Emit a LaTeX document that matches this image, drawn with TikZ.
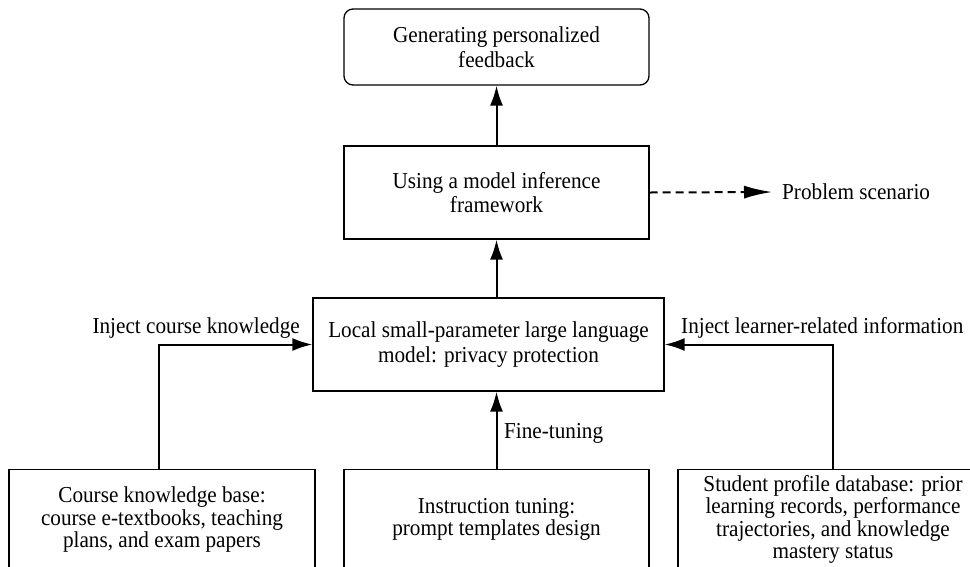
\documentclass[tikz,border=0pt]{standalone}
\usepackage{fontspec}
\setmainfont{Liberation Serif}[FakeStretch=0.93]
\usetikzlibrary{arrows.meta,positioning}
\tikzset{
  box/.style={draw,line width=1.3pt,align=center,inner sep=0pt},
  rbox/.style={box,rounded corners=9pt},
  src/.style={box,font=\fontsize{22.8}{22.5}\selectfont,minimum height=100pt,anchor=north},
  arr/.style={line width=2pt,-{Latex[length=20pt,width=13pt]}},
  dasharr/.style={line width=2pt,dash pattern=on 8pt off 5pt,-{Latex[length=28pt,width=13pt]}},
  lbl/.style={inner sep=0pt},
}
\begin{document}
\begin{tikzpicture}[x=1pt,y=-1pt,font=\fontsize{22.8}{24.5}\selectfont]
    \useasboundingbox (0,0) rectangle (970,566);
    \node[rbox,minimum width=305pt,minimum height=76pt](fb)at(496.5,47){Generating personalized\\feedback};
    \node[box,minimum width=305pt,minimum height=93pt](infer)at(496.5,192.5){Using a model inference\\framework};
    \node[box,minimum width=351pt,minimum height=93pt](llm)at(488.5,344.5){Local small-parameter large language\\model: privacy protection};
    \node[src,minimum width=306pt](course)at(162,469){Course knowledge base:\\course e-textbooks, teaching\\plans, and exam papers};
    \node[src,minimum width=305pt](tune)at(496.5,469){Instruction tuning:\\prompt templates design};
    \node[src,minimum width=310pt](student)at(833,469){Student profile database: prior\\learning records, performance\\trajectories, and knowledge\\mastery status};
    \node[lbl,anchor=west,inner xsep=10pt](prob)at(772,192){Problem scenario};
    \node[lbl,anchor=base east](injc)at(300,333){Inject course knowledge};
    \node[lbl,anchor=base west](injl)at(681,333){Inject learner-related information};
    \node[lbl,anchor=base west](ft)at(504,438){Fine-tuning};
    \draw[arr](infer)--(fb);
    \draw[arr](llm.north -| infer.south)--(infer.south);
    \draw[arr](tune)--(llm.south -| tune.north);
    \draw[arr]([xshift=-3pt]course.north)|-(llm.west);
    \draw[arr](student.north)|-(llm.east);
    \draw[dasharr](infer.east)--(prob.west);
\end{tikzpicture}
\end{document}
